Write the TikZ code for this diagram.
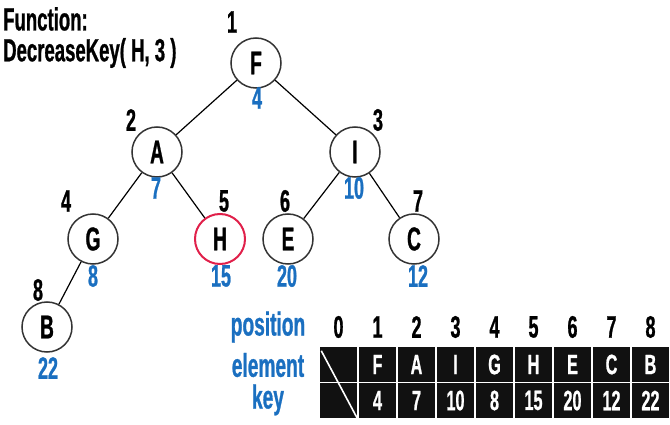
\documentclass[tikz,border=0pt]{standalone}
\usepackage{fontspec}
\setmainfont{Liberation Sans}[FakeStretch=0.58,FakeBold=0.8]
\definecolor{keyblue}{HTML}{1A6FC0}
\definecolor{hred}{HTML}{E0204A}
\definecolor{cellbk}{HTML}{111111}
\tikzset{
  vert/.style={circle,draw=black!80,line width=1.5pt,minimum size=50pt,inner sep=0pt,font=\fontsize{33}{33}\selectfont\bfseries},
  hot/.style={vert,draw=hred,line width=2pt},
  idx/.style={font=\fontsize{31}{31}\selectfont\bfseries,inner sep=0pt},
  keyl/.style={text=keyblue,font=\fontsize{31}{31}\selectfont\bfseries,inner sep=0pt},
  edge/.style={line width=1.2pt,black},
  cell/.style={fill=cellbk,text=white,minimum width=37pt,minimum height=35pt,inner sep=0pt,font=\fontsize{28}{28}\selectfont\bfseries},
  rowl/.style={text=keyblue,font=\fontsize{33}{33}\selectfont\bfseries,inner sep=0pt},
  ttl/.style={font=\fontsize{32}{32}\selectfont\bfseries,inner sep=0pt,anchor=west}
}
\begin{document}
\begin{tikzpicture}[x=1pt,y=-1pt]
\useasboundingbox (0,0) rectangle (670,425);
% title
\node[ttl] (t1) at (3,19) {Function:};
\node[ttl] (t2) at (3,53) {DecreaseKey( H, 3 )};
% tree
\node[vert] (F) at (256,63) {F};
\node[vert] (A) at (157,152) {A};
\node[vert] (I) at (355,152) {I};
\node[vert] (G) at (93,239) {G};
\node[hot]  (H) at (220,239) {H};
\node[vert] (E) at (288,239) {E};
\node[vert] (C) at (414,239) {C};
\node[vert] (B) at (47,327) {B};
\draw[edge] (F) -- (A);
\draw[edge] (F) -- (I);
\draw[edge] (A) -- (G);
\draw[edge] (A) -- (H);
\draw[edge] (I) -- (E);
\draw[edge] (I) -- (C);
\draw[edge] (G) -- (B);
% indices
\node[idx] (n1) at (232,22) {1};
\node[idx] (n2) at (131,120) {2};
\node[idx] (n3) at (378,120) {3};
\node[idx] (n4) at (66,201) {4};
\node[idx] (n5) at (224,201) {5};
\node[idx] (n6) at (285,201) {6};
\node[idx] (n7) at (418,201) {7};
\node[idx] (n8) at (38,290) {8};
% keys
\node[keyl] (k1) at (257,98) {4};
\node[keyl] (k2) at (156,188) {7};
\node[keyl] (k3) at (354,188) {10};
\node[keyl] (k4) at (93,276) {8};
\node[keyl] (k5) at (221,276) {15};
\node[keyl] (k6) at (287,276) {20};
\node[keyl] (k7) at (418,276) {12};
\node[keyl] (k8) at (48,368) {22};
% table
\node[rowl] (lp) at (268,327) {position};
\node[rowl] (le) at (268,365) {element};
\node[rowl] (lk) at (268,400) {key};
\foreach \i in {0,...,8} {
  \node[idx] (p\i) at (338.5+39*\i,327) {\i};
}
\node[cell] (e0) at (338.5,364.5) {};
\node[cell] (r0) at (338.5,400.5) {};
\foreach \i/\el/\k in {1/F/4,2/A/7,3/I/10,4/G/8,5/H/15,6/E/20,7/C/12,8/B/22} {
  \node[cell] (e\i) at (338.5+39*\i,364.5) {\el};
  \node[cell] (r\i) at (338.5+39*\i,400.5) {\k};
}
\draw[white,line width=1.6pt] (e0.north west) ++(1.5,4) coordinate (d1) -- (r0.south east) coordinate (d2);
\end{tikzpicture}
\end{document}
